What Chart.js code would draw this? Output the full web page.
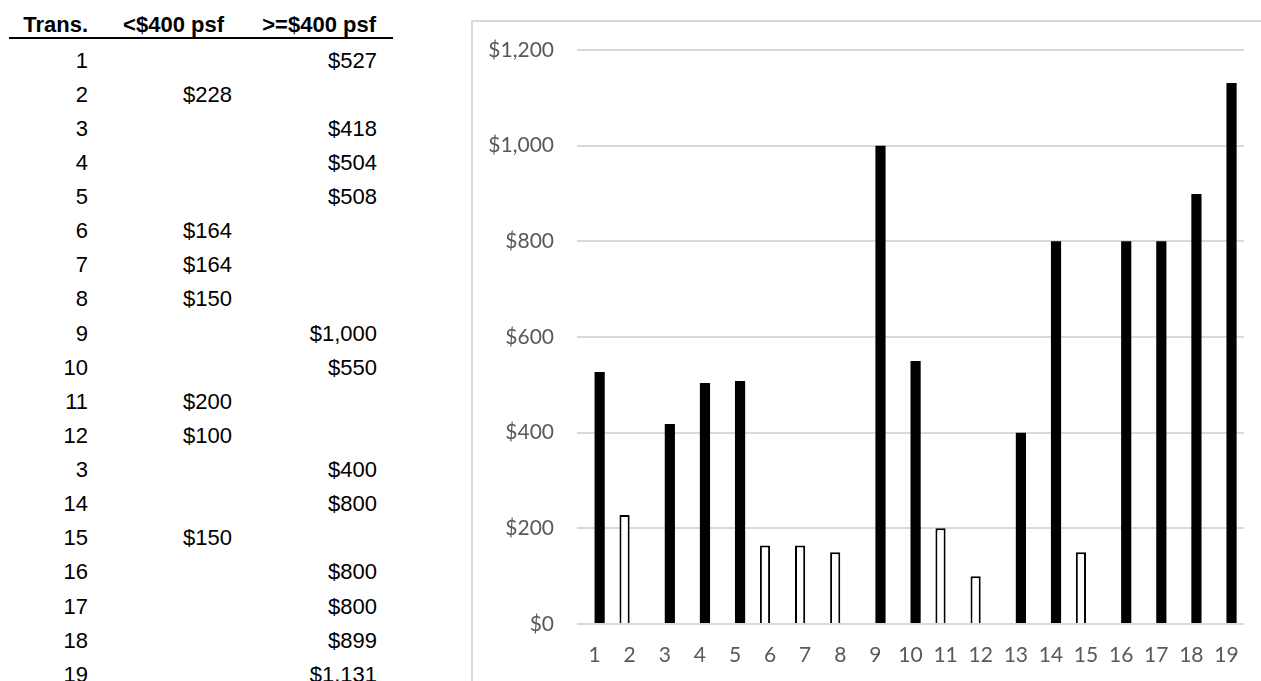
<!DOCTYPE html>
<html>
<head>
<meta charset="utf-8">
<script src="https://cdn.jsdelivr.net/npm/chart.js@4/dist/chart.umd.min.js"></script>
<style>
  html, body { margin: 0; padding: 0; background: #ffffff; width: 1261px; height: 681px; overflow: hidden; }
  #table { position: absolute; left: 0; top: 0; width: 440px; height: 681px; font-family: "Liberation Sans", Arial, sans-serif; color: #000; }
  .cell { position: absolute; font-size: 22px; line-height: 34px; height: 34px; text-align: right; white-space: nowrap; }
  .hdr { font-weight: bold; }
  #rule { position: absolute; left: 9px; top: 37px; width: 384px; height: 2px; background: #000; }
  #chartBox { position: absolute; left: 471px; top: 20px; width: 788px; height: 659px; border-left: 2px solid #d9d9d9; border-top: 2px solid #d9d9d9; }
  #chartBox canvas { position: absolute; left: 0; top: 0; }
</style>
</head>
<body>
<div id="table"><div id="rule"></div></div>
<div id="chartBox"><canvas id="c" width="788" height="659"></canvas></div>
<script>
// ---- data ----
const headers = ["Trans.", "<$400 psf", ">=$400 psf"];
const transLabels = ["1","2","3","4","5","6","7","8","9","10","11","12","3","14","15","16","17","18","19"];
const categories = ["1","2","3","4","5","6","7","8","9","10","11","12","13","14","15","16","17","18","19"];
const below400 = [null,228,null,null,null,164,164,150,null,null,200,100,null,null,150,null,null,null,null];
const atOrAbove400 = [527,null,418,504,508,null,null,null,1000,550,null,null,400,800,null,800,800,899,1131];
const yTicks = [0,200,400,600,800,1000,1200];

function money(v) { return "$" + v.toLocaleString("en-US"); }

// ---- table ----
const table = document.getElementById("table");
const colRight = [88, 232, 377];
const hdrRight = [88, 224, 376];
function addCell(text, right, top, cls) {
  const d = document.createElement("div");
  d.className = "cell" + (cls ? " " + cls : "");
  d.textContent = text;
  d.style.right = (440 - right) + "px";
  d.style.top = top + "px";
  table.appendChild(d);
}
headers.forEach((h, i) => addCell(h, hdrRight[i], 8, "hdr"));
const rowStep = 34.12;
transLabels.forEach((t, i) => {
  const top = 43.6 + i * rowStep;
  addCell(t, colRight[0], top);
  if (below400[i] != null) addCell(money(below400[i]), colRight[1], top);
  if (atOrAbove400[i] != null) addCell(money(atOrAbove400[i]), colRight[2], top);
});

// ---- chart ----
const tickFont = { family: "Lato", size: 21 };
new Chart(document.getElementById("c"), {
  type: "bar",
  data: {
    labels: categories,
    datasets: [
      { label: "<$400 psf", data: below400, backgroundColor: "#ffffff", borderColor: "#000000", borderWidth: 2, categoryPercentage: 0.58, barPercentage: 1.0 },
      { label: ">=$400 psf", data: atOrAbove400, backgroundColor: "#000000", borderColor: "#000000", borderWidth: 0, categoryPercentage: 0.58, barPercentage: 1.0 }
    ]
  },
  options: {
    responsive: false,
    animation: false,
    layout: { padding: { top: 28, right: 17, bottom: 0, left: 0 } },
    plugins: { legend: { display: false }, tooltip: { enabled: false } },
    scales: {
      x: {
        grid: { display: false, drawTicks: false },
        border: { display: false },
        ticks: { color: "#595959", font: tickFont, padding: 19, maxRotation: 0, autoSkip: false },
        afterFit: (s) => { s.height = 57; s.paddingLeft = 0; s.paddingRight = 0; }
      },
      y: {
        min: 0, max: 1200,
        afterBuildTicks: (s) => { s.ticks = yTicks.map(v => ({ value: v })); },
        grid: { color: "#d9d9d9", lineWidth: 2, drawTicks: false },
        border: { display: false },
        ticks: { color: "#595959", font: tickFont, padding: 23, callback: (v) => money(v) },
        afterFit: (s) => { s.width = 104; s.paddingTop = 0; s.paddingBottom = 0; }
      }
    }
  }
});
</script>
</body>
</html>
